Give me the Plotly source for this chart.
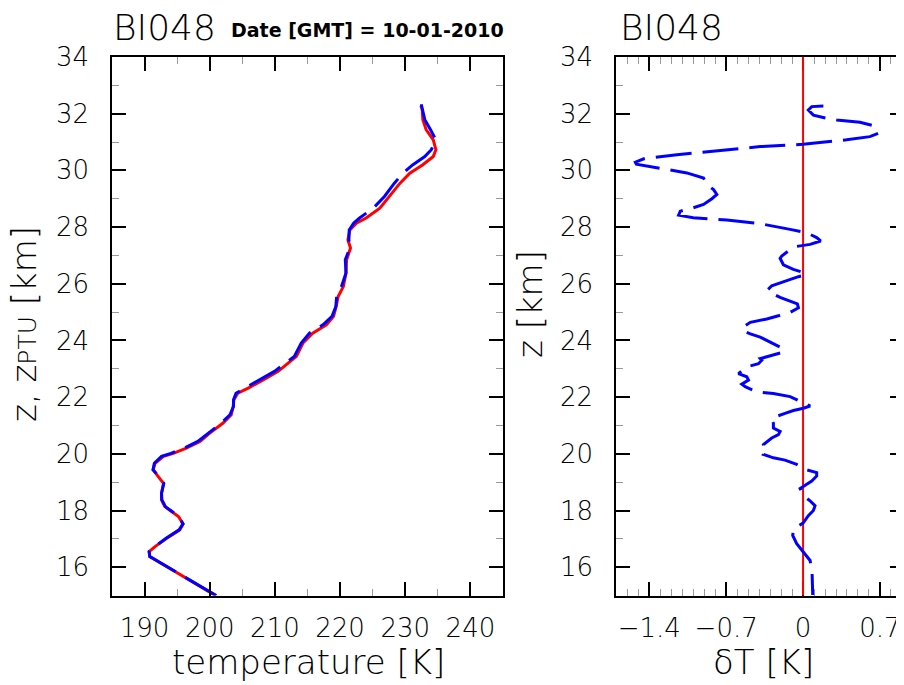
import plotly.graph_objects as go

# ---------------- data ----------------
z_prof = [15.0, 15.67, 16.38, 16.55, 16.73, 17.02, 17.32, 17.53, 17.79, 18.14, 18.38, 18.61,
          18.96, 19.2, 19.44, 19.67, 19.91, 20.02, 20.2, 20.44, 20.73, 21.08, 21.38, 21.67,
          21.91, 22.14, 22.32, 22.61, 22.91, 23.14, 23.44, 23.91, 24.26, 24.55, 24.85, 25.2,
          25.55, 25.9, 26.38, 26.85, 27.26, 27.55, 27.9, 28.14, 28.32, 28.67, 29.08, 29.55,
          29.9, 30.2, 30.49, 30.73, 31.08, 31.44, 31.79, 32.14, 32.29]
t_ptu = [200.9, 195.9, 190.8, 190.7, 191.6, 193.4, 195.4, 195.9, 195.2, 193.1, 192.6, 192.6,
         192.9, 192.1, 191.3, 191.6, 192.9, 194.4, 196.4, 198.5, 200.0, 202.0, 203.3, 203.6,
         203.7, 204.3, 205.9, 208.2, 210.5, 211.7, 213.3, 214.3, 215.8, 217.9, 219.0, 219.4,
         219.7, 220.5, 220.9, 221.0, 221.6, 221.2, 221.5, 222.5, 224.0, 226.1, 227.6, 229.2,
         230.7, 232.7, 234.3, 234.7, 234.3, 233.2, 232.7, 232.6, 232.4]

z_blue = [15.0, 15.67, 16.38, 16.55, 16.73, 17.02, 17.32, 17.53, 17.79, 18.14, 18.38, 18.61,
          18.96, 19.2, 19.44, 19.67, 19.91, 20.02, 20.2, 20.44, 20.73, 21.08, 21.38, 21.67,
          21.91, 22.14, 22.32, 22.61, 22.91, 23.14, 23.44, 23.91, 24.26, 24.55, 24.85, 25.2,
          25.55, 25.9, 26.38, 26.85, 27.26, 27.55, 27.9, 28.14, 28.32, 28.67, 29.08, 29.55,
          29.9, 30.2, 30.49, 30.73, 31.08, 31.44, 31.79, 32.14, 32.29, 32.61]
t_blue = [201.0, 196.0, 190.8, 190.7, 191.6, 193.3, 195.3, 195.9, 195.25, 193.2, 192.65, 192.6,
          192.95, 192.2, 191.3, 191.5, 192.6, 194.05, 196.06, 198.17, 199.78, 201.73, 203.1, 203.64,
          203.65, 204.03, 205.4, 207.7, 209.93, 211.25, 212.98, 214.04, 215.3, 217.38, 218.76, 219.35,
          219.47, 220.2, 220.91, 220.8, 221.5, 221.35, 221.4, 222.1, 223.0, 225.1, 226.81, 228.33,
          229.64, 231.18, 233.0, 234.0, 234.7, 233.86, 233.0, 232.65, 232.5, 232.5]

z_dt = [32.27, 32.25, 32.13, 31.95, 31.84, 31.78, 31.70, 31.58, 31.31, 31.19, 31.08, 30.92,
        30.84, 30.73, 30.55, 30.41, 30.29, 30.22, 30.14, 30.02, 29.91, 29.73, 29.5, 29.32,
        29.15, 29.0, 28.8, 28.68, 28.56, 28.42, 28.33, 28.25, 28.12, 27.92, 27.8, 27.63,
        27.51, 27.39, 27.3, 27.16, 26.98, 26.9, 26.67, 26.51, 26.4, 26.32, 26.25, 26.11,
        25.93, 25.78, 25.64, 25.52, 25.4, 25.29, 25.15, 24.99, 24.87, 24.76, 24.64, 24.47,
        24.33, 24.23, 24.12, 24.0, 23.88, 23.71, 23.59, 23.44, 23.36, 23.30, 23.18, 23.07,
        22.83, 22.72, 22.6, 22.46, 22.37, 22.19, 22.13, 22.02, 21.78, 21.69, 21.61, 21.53,
        21.43, 21.26, 21.08, 20.91, 20.79, 20.68, 20.56, 20.33, 20.15, 19.98, 19.86, 19.78,
        19.63, 19.45, 19.34, 19.22, 19.04, 18.78, 18.52, 18.34, 18.17, 18.0, 17.82, 17.56,
        17.35, 17.12, 16.83, 16.54, 16.24, 15.84, 15.02]
dt = [0.185, 0.079, 0.048, 0.094, 0.215, 0.306, 0.518, 0.64, 0.685, 0.609, 0.397, 0.0,
      -0.39, -0.694, -1.148, -1.45, -1.527, -1.518, -1.39, -1.21, -1.058, -0.906, -0.876, -0.815,
      -0.785, -0.83, -0.906, -1.0, -1.118, -1.133, -1.0, -0.694, -0.39, -0.118, 0.033, 0.124,
      0.16, 0.064, -0.088, -0.133, -0.194, -0.209, -0.179, -0.088, 0.003, 0.024, -0.042, -0.148,
      -0.285, -0.324, -0.27, -0.209, -0.118, -0.052, -0.042, -0.118, -0.224, -0.33, -0.48, -0.548,
      -0.542, -0.48, -0.39, -0.33, -0.27, -0.179, -0.179, -0.315, -0.39, -0.376, -0.406, -0.512,
      -0.588, -0.512, -0.497, -0.558, -0.527, -0.421, -0.27, -0.118, 0.018, 0.064, 0.003, -0.088,
      -0.164, -0.285, -0.27, -0.27, -0.209, -0.224, -0.285, -0.36, -0.33, -0.36, -0.27, -0.164,
      -0.058, 0.018, 0.124, 0.124, 0.079, -0.027, 0.003, 0.064, 0.109, 0.094, 0.048, 0.0,
      -0.088, -0.094, -0.058, 0.003, 0.064, 0.082, 0.088]

zero_z = [14, 35]
zero_dt = [0, 0]

x1_ticks = [190, 200, 210, 220, 230, 240]
y_ticks = [16, 18, 20, 22, 24, 26, 28, 30, 32, 34]
x2_ticks = [-1.4, -0.7, 0, 0.7]
x2_labels = ["\u22121.4", "\u22120.7", "0", "0.7"]

# ---------------- figure ----------------
# the page body has an 8px margin, so the figure is drawn 8px in from the window corner
OX, OY = 8, 8
W, H = 904 - OX, 685 - OY


def px(x):
    return (x - OX) / W


def py(y):
    return 1 - (y - OY) / H


FONT = "DejaVu Sans"
LIGHT = 200
TFONT = dict(family=FONT, size=26, weight=LIGHT)

fig = go.Figure()
fig.add_trace(go.Scatter(x=t_ptu, y=z_prof, mode="lines", line=dict(color="#ff0000", width=3),
                         xaxis="x", yaxis="y", showlegend=False))
fig.add_trace(go.Scatter(x=t_blue, y=z_blue, mode="lines",
                         line=dict(color="#0000ff", width=3, dash="36px,11px"),
                         xaxis="x", yaxis="y", showlegend=False))
fig.add_trace(go.Scatter(x=zero_dt, y=zero_z, mode="lines", line=dict(color="#ff0000", width=2),
                         xaxis="x2", yaxis="y2", showlegend=False))
fig.add_trace(go.Scatter(x=dt, y=z_dt, mode="lines",
                         line=dict(color="#0000ff", width=3, dash="36px,11px"),
                         xaxis="x2", yaxis="y2", showlegend=False))

ydom = [py(595.6), py(57)]
axis_common = dict(showgrid=False, zeroline=False, showline=True, linecolor="black",
                   linewidth=1.5, ticks="inside", ticklen=14, tickwidth=1.5, tickcolor="black",
                   mirror="ticks", automargin=False, tickfont=TFONT)

fig.update_layout(
    width=W, height=H, margin=dict(l=0, r=0, t=0, b=0, autoexpand=False),
    paper_bgcolor="white", plot_bgcolor="white",
    font=dict(family=FONT, color="black", weight=LIGHT),
    xaxis=dict(domain=[px(112), px(503)], range=[185, 245], tickvals=x1_ticks,
               ticklabelstandoff=8,
               minor=dict(dtick=5, ticks="inside", ticklen=7, tickcolor="#999999", tickwidth=1),
               anchor="y", **axis_common),
    yaxis=dict(domain=ydom, range=[15, 34], tickvals=y_ticks, ticklabelstandoff=16,
               minor=dict(dtick=1, ticks="inside", ticklen=7, tickcolor="#999999", tickwidth=1),
               anchor="x", **axis_common),
    xaxis2=dict(domain=[px(616), 1.0], range=[-1.703, 0.919], tickvals=x2_ticks, ticktext=x2_labels,
                ticklabelstandoff=8, layer="below traces",
                minor=dict(dtick=0.1, tick0=0, ticks="inside", ticklen=7, tickcolor="#999999",
                           tickwidth=1),
                anchor="y2", **axis_common),
    yaxis2=dict(domain=ydom, range=[15, 34], tickvals=y_ticks, ticklabelstandoff=16,
                minor=dict(dtick=1, ticks="inside", ticklen=7, tickcolor="#999999", tickwidth=1),
                anchor="x2", **axis_common),
)

ann = [
    dict(text="BI048", x=px(111), y=py(28), xanchor="left", yanchor="middle",
         font=dict(size=36, weight=LIGHT)),
    dict(text="Date [GMT] = 10-01-2010", x=px(229), y=py(30), xanchor="left",
         yanchor="middle", font=dict(size=19, weight="bold")),
    dict(text="BI048", x=px(618), y=py(28), xanchor="left", yanchor="middle",
         font=dict(size=36, weight=LIGHT)),
    dict(text="temperature [K]", x=px(308), y=py(662), xanchor="center", yanchor="middle",
         font=dict(size=34, weight=LIGHT)),
    dict(text="\u03b4T [K]", x=px(763), y=py(662), xanchor="center", yanchor="middle",
         font=dict(size=34, weight=LIGHT)),
    dict(text="z, z<span style='font-size:25px'>PTU</span> [km]", x=px(24), y=py(324),
         xanchor="center", yanchor="middle", textangle=-90, font=dict(size=34, weight=LIGHT)),
    dict(text="z [km]", x=px(530), y=py(304), xanchor="center", yanchor="middle",
         textangle=-90, font=dict(size=34, weight=LIGHT)),
]
for a in ann:
    a.update(xref="paper", yref="paper", showarrow=False)
fig.update_layout(annotations=ann)

fig.write_html("out.html")
